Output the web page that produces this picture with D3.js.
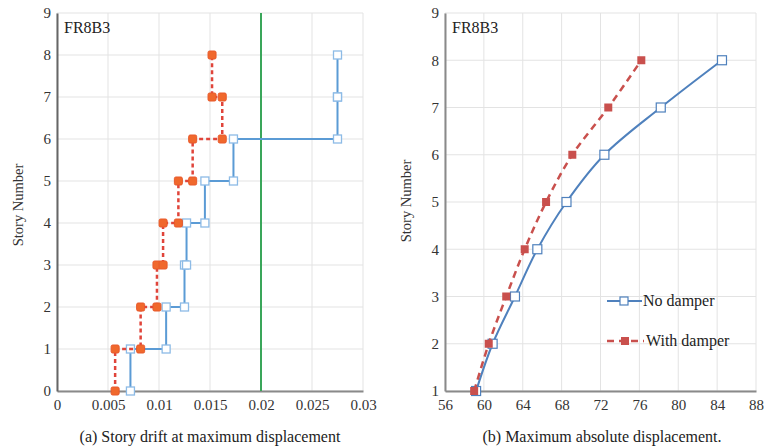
<!DOCTYPE html>
<html>
<head>
<meta charset="utf-8">
<script src="https://cdn.jsdelivr.net/npm/d3@7"></script>
<style>
  body { margin: 0; background: #fff; }
  svg { font-family: "Liberation Serif", "Times New Roman", serif; }
</style>
</head>
<body>
<div id="chart"></div>
<script>
// Story numbers and values
const stories = [1, 2, 3, 4, 5, 6, 7, 8];
const driftNoDamper = [0.0072, 0.0107, 0.0125, 0.0127, 0.0145, 0.0173, 0.0275, 0.0275];
const driftWithDamper = [0.0057, 0.0082, 0.0098, 0.0104, 0.0119, 0.0133, 0.0162, 0.0152];
const dispNoDamper = [59.2, 60.9, 63.2, 65.5, 68.5, 72.4, 78.2, 84.5];
const dispWithDamper = [59.0, 60.5, 62.3, 64.2, 66.4, 69.1, 72.8, 76.2];
const driftLimit = 0.02;
const driftTicks = [0, 0.005, 0.01, 0.015, 0.02, 0.025, 0.03];
const dispTicks = [56, 60, 64, 68, 72, 76, 80, 84, 88];
const seriesNames = ["No damper", "With damper"];

const svg = d3.select("#chart").append("svg")
    .attr("width", 764)
    .attr("height", 448);

const plotTop = 13, plotBottom = 391;

// Grid + axes helper
function drawFrame(x, y, xTicks, yTicks, fmt, axisColor) {
    const g = svg.append("g");
    g.selectAll(".vg").data(xTicks).join("line")
        .attr("x1", d => x(d)).attr("x2", d => x(d))
        .attr("y1", plotTop).attr("y2", plotBottom)
        .attr("stroke", "#e3e3e3").attr("stroke-width", 1);
    g.selectAll(".hg").data(yTicks).join("line")
        .attr("x1", x.range()[0]).attr("x2", x.range()[1])
        .attr("y1", d => y(d)).attr("y2", d => y(d))
        .attr("stroke", "#e3e3e3").attr("stroke-width", 1);

    const xa = g.append("g")
        .attr("transform", `translate(0,${plotBottom})`)
        .call(d3.axisBottom(x).tickValues(xTicks).tickSize(0).tickPadding(8).tickFormat(fmt));
    xa.select(".domain").attr("stroke", "#8a8a8a").attr("stroke-width", 2);
    xa.selectAll("text").attr("font-size", 15).attr("font-family", "Liberation Serif").attr("fill", "#333");

    const ya = g.append("g")
        .attr("transform", `translate(${x.range()[0]},0)`)
        .call(d3.axisLeft(y).tickValues(yTicks).tickSize(0).tickPadding(6));
    ya.select(".domain").attr("stroke", axisColor).attr("stroke-width", 2);
    ya.selectAll("text").attr("font-size", 15).attr("font-family", "Liberation Serif").attr("fill", "#333");
}

// ---------- (a) story drift ----------
const xA = d3.scaleLinear().domain([0, 0.03]).range([57, 363]);
const yA = d3.scaleLinear().domain([0, 9]).range([plotBottom, plotTop]);
drawFrame(xA, yA, driftTicks, d3.range(0, 10), d => String(+d.toFixed(3)), "#666");

svg.append("line")
    .attr("x1", xA(driftLimit)).attr("x2", xA(driftLimit))
    .attr("y1", yA(0)).attr("y2", yA(9))
    .attr("stroke", "#3aa65a").attr("stroke-width", 2);

function stepPoints(drifts) {
    const pts = [];
    drifts.forEach((d, i) => {
        pts.push([d, stories[i] - 1]);
        pts.push([d, stories[i]]);
    });
    return pts;
}
const lineA = d3.line().x(d => xA(d[0])).y(d => yA(d[1]));

const blueA = stepPoints(driftNoDamper);
svg.append("path").datum(blueA)
    .attr("d", lineA).attr("fill", "none")
    .attr("stroke", "#5b9bd5").attr("stroke-width", 2);
svg.selectAll(".mbA").data(blueA).join("rect")
    .attr("x", d => xA(d[0]) - 4).attr("y", d => yA(d[1]) - 4)
    .attr("width", 8).attr("height", 8)
    .attr("fill", "#fff").attr("stroke", "#8dbbe6").attr("stroke-width", 1.3);

const redA = stepPoints(driftWithDamper);
svg.append("path").datum(redA)
    .attr("d", lineA).attr("fill", "none")
    .attr("stroke", "#e0443a").attr("stroke-width", 2.5)
    .attr("stroke-dasharray", "4,3");
svg.selectAll(".mrA").data(redA).join("rect")
    .attr("x", d => xA(d[0]) - 4).attr("y", d => yA(d[1]) - 4)
    .attr("width", 8).attr("height", 8).attr("rx", 1.5)
    .attr("fill", "#f0682c").attr("stroke", "#e8582a").attr("stroke-width", 1);

svg.append("text").attr("x", 64).attr("y", 33)
    .attr("font-size", 16).attr("fill", "#222").text("FR8B3");

svg.append("text")
    .attr("transform", "translate(23,205) rotate(-90)")
    .attr("text-anchor", "middle").attr("font-size", 14.5).attr("fill", "#333")
    .text("Story Number");

svg.append("text").attr("x", 210).attr("y", 442)
    .attr("text-anchor", "middle").attr("font-size", 16).attr("fill", "#222")
    .text("(a) Story drift at maximum displacement");

// ---------- (b) max absolute displacement ----------
const xB = d3.scaleLinear().domain([56, 88]).range([445, 756]);
const yB = d3.scaleLinear().domain([1, 9]).range([plotBottom, plotTop]);
drawFrame(xB, yB, dispTicks, d3.range(1, 10), d => d, "#8a8a8a");

const lineB = d3.line().x(d => xB(d[0])).y(d => yB(d[1])).curve(d3.curveCatmullRom);

const blueB = dispNoDamper.map((v, i) => [v, stories[i]]);
const redB = dispWithDamper.map((v, i) => [v, stories[i]]);

svg.append("path").datum(blueB)
    .attr("d", lineB).attr("fill", "none")
    .attr("stroke", "#4f81bd").attr("stroke-width", 2);
svg.selectAll(".mbB").data(blueB).join("rect")
    .attr("x", d => xB(d[0]) - 4.5).attr("y", d => yB(d[1]) - 4.5)
    .attr("width", 9).attr("height", 9)
    .attr("fill", "#fff").attr("stroke", "#4f81bd").attr("stroke-width", 1.2);

svg.append("path").datum(redB)
    .attr("d", lineB).attr("fill", "none")
    .attr("stroke", "#c9504d").attr("stroke-width", 2.5)
    .attr("stroke-dasharray", "7,5");
svg.selectAll(".mrB").data(redB).join("rect")
    .attr("x", d => xB(d[0]) - 4).attr("y", d => yB(d[1]) - 4)
    .attr("width", 8).attr("height", 8)
    .attr("fill", "#c9504d");

svg.append("text").attr("x", 452).attr("y", 33)
    .attr("font-size", 16).attr("fill", "#222").text("FR8B3");

svg.append("text")
    .attr("transform", "translate(411,201) rotate(-90)")
    .attr("text-anchor", "middle").attr("font-size", 14.5).attr("fill", "#333")
    .text("Story Number");

svg.append("text").attr("x", 602).attr("y", 442)
    .attr("text-anchor", "middle").attr("font-size", 16).attr("fill", "#222")
    .text("(b) Maximum absolute displacement.");

// legend
const legend = svg.append("g");
const legendY = [301, 341];
// No damper
legend.append("line").attr("x1", 607).attr("x2", 642).attr("y1", legendY[0]).attr("y2", legendY[0])
    .attr("stroke", "#4f81bd").attr("stroke-width", 2);
legend.append("rect").attr("x", 620).attr("y", legendY[0] - 4).attr("width", 8).attr("height", 8)
    .attr("fill", "#fff").attr("stroke", "#4f81bd").attr("stroke-width", 1.2);
legend.append("text").attr("x", 643).attr("y", legendY[0] + 5)
    .attr("font-size", 16).attr("fill", "#222").text(seriesNames[0]);
// With damper
legend.append("line").attr("x1", 607).attr("x2", 644).attr("y1", legendY[1]).attr("y2", legendY[1])
    .attr("stroke", "#c9504d").attr("stroke-width", 2.5).attr("stroke-dasharray", "7,5");
legend.append("rect").attr("x", 621).attr("y", legendY[1] - 4).attr("width", 8).attr("height", 8)
    .attr("fill", "#c9504d");
legend.append("text").attr("x", 646).attr("y", legendY[1] + 5)
    .attr("font-size", 16).attr("fill", "#222").text(seriesNames[1]);
</script>
</body>
</html>
